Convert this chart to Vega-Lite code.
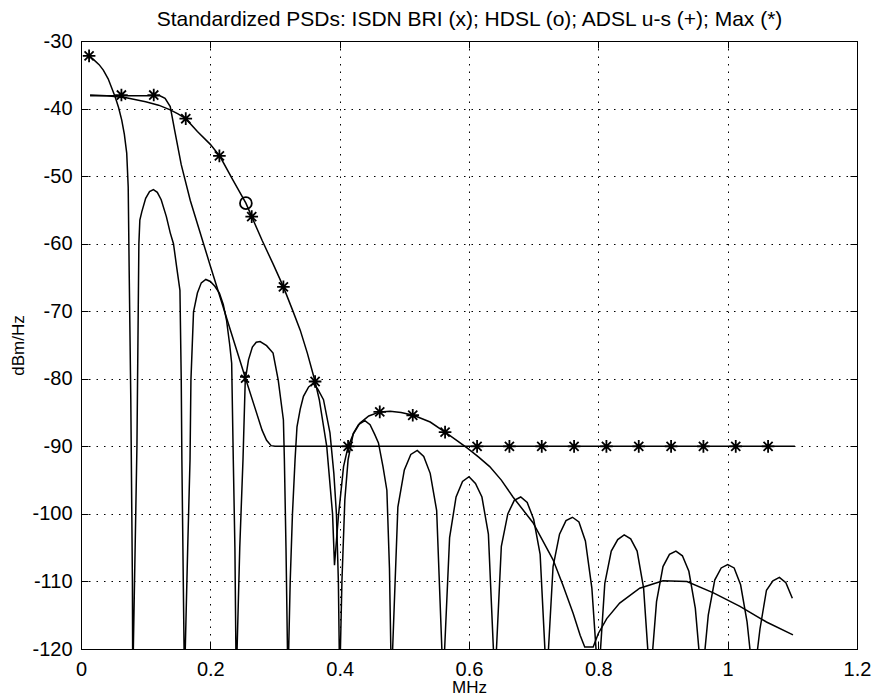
{
  "$schema": "https://vega.github.io/schema/vega-lite/v6.json",
  "width": 776,
  "height": 608,
  "autosize": {"type": "none"},
  "padding": {"left": 81, "top": 41, "right": 18, "bottom": 50},
  "background": "white",
  "config": {
    "view": {"stroke": "black", "strokeWidth": 1},
    "axis": {
      "labelFont": "Liberation Sans", "titleFont": "Liberation Sans",
      "labelColor": "black", "titleColor": "black", "domainColor": "black", "tickColor": "black",
      "labelFontSize": 20, "titleFontSize": 17, "titleFontWeight": "normal", "tickWidth": 1, "domainWidth": 1
    }
  },
  "datasets": {
    "curves": [
      {"s":"ISDN","f":0.0125,"p":-32.2},{"s":"ISDN","f":0.02,"p":-32.8},{"s":"ISDN","f":0.028,"p":-33.5},{"s":"ISDN","f":0.0345,"p":-34.3},
      {"s":"ISDN","f":0.042,"p":-35.6},{"s":"ISDN","f":0.0526,"p":-38.2},{"s":"ISDN","f":0.058,"p":-39.8},{"s":"ISDN","f":0.063,"p":-41.7},
      {"s":"ISDN","f":0.067,"p":-43.8},{"s":"ISDN","f":0.0707,"p":-46.6},{"s":"ISDN","f":0.073,"p":-51.6},{"s":"ISDN","f":0.0745,"p":-64},
      {"s":"ISDN","f":0.077,"p":-83},{"s":"ISDN","f":0.0795,"p":-110},{"s":"ISDN","f":0.08,"p":-125},
      {"s":"ISDN","f":0.0865,"p":-90},{"s":"ISDN","f":0.0885,"p":-70},{"s":"ISDN","f":0.0895,"p":-60},{"s":"ISDN","f":0.091,"p":-56.5},
      {"s":"ISDN","f":0.094,"p":-55.3},{"s":"ISDN","f":0.1,"p":-53.3},{"s":"ISDN","f":0.106,"p":-52.3},{"s":"ISDN","f":0.112,"p":-52},
      {"s":"ISDN","f":0.118,"p":-52.4},{"s":"ISDN","f":0.124,"p":-53.5},{"s":"ISDN","f":0.132,"p":-56},{"s":"ISDN","f":0.138,"p":-58.4},
      {"s":"ISDN","f":0.143,"p":-60},{"s":"ISDN","f":0.148,"p":-63.5},{"s":"ISDN","f":0.153,"p":-66.9},{"s":"ISDN","f":0.155,"p":-80},
      {"s":"ISDN","f":0.156,"p":-92},{"s":"ISDN","f":0.16,"p":-125},
      {"s":"ISDN","f":0.165,"p":-105},{"s":"ISDN","f":0.1686,"p":-92},{"s":"ISDN","f":0.17,"p":-80.2},{"s":"ISDN","f":0.174,"p":-70.1},
      {"s":"ISDN","f":0.18,"p":-67.3},{"s":"ISDN","f":0.186,"p":-65.8},{"s":"ISDN","f":0.193,"p":-65.3},{"s":"ISDN","f":0.2,"p":-65.6},
      {"s":"ISDN","f":0.207,"p":-66.3},{"s":"ISDN","f":0.214,"p":-67.3},{"s":"ISDN","f":0.22,"p":-69},{"s":"ISDN","f":0.225,"p":-71.3},
      {"s":"ISDN","f":0.23,"p":-75},{"s":"ISDN","f":0.233,"p":-77.7},{"s":"ISDN","f":0.2355,"p":-92},{"s":"ISDN","f":0.238,"p":-105},
      {"s":"ISDN","f":0.24,"p":-125},
      {"s":"ISDN","f":0.2455,"p":-105},{"s":"ISDN","f":0.2505,"p":-92},{"s":"ISDN","f":0.254,"p":-80.2},{"s":"ISDN","f":0.259,"p":-77.2},
      {"s":"ISDN","f":0.265,"p":-75.3},{"s":"ISDN","f":0.271,"p":-74.6},{"s":"ISDN","f":0.277,"p":-74.5},{"s":"ISDN","f":0.287,"p":-75.1},
      {"s":"ISDN","f":0.297,"p":-76.2},{"s":"ISDN","f":0.305,"p":-80.2},{"s":"ISDN","f":0.313,"p":-86.1},{"s":"ISDN","f":0.3145,"p":-92},
      {"s":"ISDN","f":0.317,"p":-105},{"s":"ISDN","f":0.32,"p":-125},
      {"s":"ISDN","f":0.3235,"p":-110},{"s":"ISDN","f":0.327,"p":-100},{"s":"ISDN","f":0.331,"p":-92},{"s":"ISDN","f":0.334,"p":-87.1},
      {"s":"ISDN","f":0.339,"p":-84.5},{"s":"ISDN","f":0.344,"p":-82.6},{"s":"ISDN","f":0.352,"p":-81.2},{"s":"ISDN","f":0.359,"p":-80.7},
      {"s":"ISDN","f":0.366,"p":-81.5},{"s":"ISDN","f":0.375,"p":-83.1},{"s":"ISDN","f":0.385,"p":-88},{"s":"ISDN","f":0.391,"p":-94},
      {"s":"ISDN","f":0.395,"p":-100},{"s":"ISDN","f":0.398,"p":-110},{"s":"ISDN","f":0.4,"p":-125},
      {"s":"ISDN","f":0.4035,"p":-110},{"s":"ISDN","f":0.408,"p":-97.9},{"s":"ISDN","f":0.413,"p":-92},{"s":"ISDN","f":0.421,"p":-88.1},
      {"s":"ISDN","f":0.429,"p":-86.8},{"s":"ISDN","f":0.439,"p":-86.2},{"s":"ISDN","f":0.447,"p":-86.8},{"s":"ISDN","f":0.454,"p":-88.2},
      {"s":"ISDN","f":0.46,"p":-89.5},{"s":"ISDN","f":0.467,"p":-93},{"s":"ISDN","f":0.473,"p":-96.5},{"s":"ISDN","f":0.477,"p":-108},
      {"s":"ISDN","f":0.48,"p":-125},
      {"s":"ISDN","f":0.49,"p":-99},{"s":"ISDN","f":0.5,"p":-93.5},{"s":"ISDN","f":0.51,"p":-91.2},{"s":"ISDN","f":0.52,"p":-90.6},
      {"s":"ISDN","f":0.53,"p":-91.5},{"s":"ISDN","f":0.54,"p":-94},{"s":"ISDN","f":0.55,"p":-99.5},{"s":"ISDN","f":0.56,"p":-125},
      {"s":"ISDN","f":0.57,"p":-103.5},{"s":"ISDN","f":0.58,"p":-97.5},{"s":"ISDN","f":0.59,"p":-95.2},{"s":"ISDN","f":0.6,"p":-94.5},
      {"s":"ISDN","f":0.61,"p":-95.5},{"s":"ISDN","f":0.62,"p":-97.5},{"s":"ISDN","f":0.63,"p":-103},{"s":"ISDN","f":0.64,"p":-125},
      {"s":"ISDN","f":0.65,"p":-104.8},{"s":"ISDN","f":0.66,"p":-100},{"s":"ISDN","f":0.67,"p":-98},{"s":"ISDN","f":0.68,"p":-97.5},
      {"s":"ISDN","f":0.69,"p":-98.3},{"s":"ISDN","f":0.7,"p":-100.8},{"s":"ISDN","f":0.71,"p":-106},{"s":"ISDN","f":0.72,"p":-125},
      {"s":"ISDN","f":0.73,"p":-107.8},{"s":"ISDN","f":0.74,"p":-103},{"s":"ISDN","f":0.75,"p":-101},{"s":"ISDN","f":0.76,"p":-100.5},
      {"s":"ISDN","f":0.77,"p":-101.2},{"s":"ISDN","f":0.78,"p":-104},{"s":"ISDN","f":0.79,"p":-111},{"s":"ISDN","f":0.8,"p":-125},
      {"s":"ISDN","f":0.81,"p":-110.3},{"s":"ISDN","f":0.82,"p":-105.5},{"s":"ISDN","f":0.83,"p":-103.8},{"s":"ISDN","f":0.84,"p":-103.1},
      {"s":"ISDN","f":0.85,"p":-103.7},{"s":"ISDN","f":0.86,"p":-105.5},{"s":"ISDN","f":0.87,"p":-111},{"s":"ISDN","f":0.88,"p":-125},
      {"s":"ISDN","f":0.89,"p":-113},{"s":"ISDN","f":0.9,"p":-107.8},{"s":"ISDN","f":0.91,"p":-106},{"s":"ISDN","f":0.92,"p":-105.5},
      {"s":"ISDN","f":0.93,"p":-106.2},{"s":"ISDN","f":0.94,"p":-108.5},{"s":"ISDN","f":0.95,"p":-114},{"s":"ISDN","f":0.96,"p":-125},
      {"s":"ISDN","f":0.97,"p":-115},{"s":"ISDN","f":0.98,"p":-109.8},{"s":"ISDN","f":0.99,"p":-108},{"s":"ISDN","f":1.0,"p":-107.5},
      {"s":"ISDN","f":1.01,"p":-108},{"s":"ISDN","f":1.02,"p":-110.5},{"s":"ISDN","f":1.03,"p":-116},{"s":"ISDN","f":1.04,"p":-125},
      {"s":"ISDN","f":1.05,"p":-117},{"s":"ISDN","f":1.06,"p":-111.3},{"s":"ISDN","f":1.07,"p":-109.9},{"s":"ISDN","f":1.08,"p":-109.4},
      {"s":"ISDN","f":1.09,"p":-110.2},{"s":"ISDN","f":1.1,"p":-112.5},

      {"s":"HDSL","f":0.014,"p":-38.0},{"s":"HDSL","f":0.04,"p":-38.1},{"s":"HDSL","f":0.07,"p":-38.4},{"s":"HDSL","f":0.1,"p":-39.0},
      {"s":"HDSL","f":0.12,"p":-39.5},{"s":"HDSL","f":0.138,"p":-40.2},{"s":"HDSL","f":0.15,"p":-40.8},{"s":"HDSL","f":0.162,"p":-41.5},
      {"s":"HDSL","f":0.18,"p":-43.4},{"s":"HDSL","f":0.2,"p":-45.3},{"s":"HDSL","f":0.215,"p":-47.1},{"s":"HDSL","f":0.235,"p":-50.6},
      {"s":"HDSL","f":0.255,"p":-54.0},{"s":"HDSL","f":0.264,"p":-56.0},{"s":"HDSL","f":0.28,"p":-59.5},{"s":"HDSL","f":0.297,"p":-63},
      {"s":"HDSL","f":0.313,"p":-66.4},{"s":"HDSL","f":0.327,"p":-69.8},{"s":"HDSL","f":0.339,"p":-72.8},{"s":"HDSL","f":0.35,"p":-76.2},
      {"s":"HDSL","f":0.362,"p":-80.4},{"s":"HDSL","f":0.3685,"p":-83.1},{"s":"HDSL","f":0.38,"p":-90},{"s":"HDSL","f":0.389,"p":-100},
      {"s":"HDSL","f":0.392,"p":-107.6},{"s":"HDSL","f":0.398,"p":-100.4},{"s":"HDSL","f":0.406,"p":-93},{"s":"HDSL","f":0.413,"p":-90.05},
      {"s":"HDSL","f":0.421,"p":-88.2},{"s":"HDSL","f":0.431,"p":-86.6},{"s":"HDSL","f":0.445,"p":-85.5},{"s":"HDSL","f":0.462,"p":-84.9},
      {"s":"HDSL","f":0.478,"p":-84.8},{"s":"HDSL","f":0.495,"p":-85},{"s":"HDSL","f":0.514,"p":-85.4},{"s":"HDSL","f":0.54,"p":-86.4},
      {"s":"HDSL","f":0.563,"p":-87.9},{"s":"HDSL","f":0.582,"p":-89.2},{"s":"HDSL","f":0.598,"p":-90.3},{"s":"HDSL","f":0.615,"p":-91.6},
      {"s":"HDSL","f":0.632,"p":-93},{"s":"HDSL","f":0.65,"p":-95},{"s":"HDSL","f":0.668,"p":-97.5},{"s":"HDSL","f":0.699,"p":-101.3},
      {"s":"HDSL","f":0.73,"p":-106.8},{"s":"HDSL","f":0.745,"p":-110.5},{"s":"HDSL","f":0.761,"p":-114.7},{"s":"HDSL","f":0.772,"p":-118},
      {"s":"HDSL","f":0.779,"p":-119.7},{"s":"HDSL","f":0.792,"p":-119.7},{"s":"HDSL","f":0.8,"p":-117.7},{"s":"HDSL","f":0.813,"p":-115.5},
      {"s":"HDSL","f":0.833,"p":-113.2},{"s":"HDSL","f":0.864,"p":-111},{"s":"HDSL","f":0.9,"p":-109.9},{"s":"HDSL","f":0.937,"p":-110.0},
      {"s":"HDSL","f":0.978,"p":-111.7},{"s":"HDSL","f":1.019,"p":-113.7},{"s":"HDSL","f":1.06,"p":-116},{"s":"HDSL","f":1.101,"p":-117.9},

      {"s":"ADSL","f":0.014,"p":-38.1},{"s":"ADSL","f":0.122,"p":-38.1},{"s":"ADSL","f":0.13,"p":-38.5},{"s":"ADSL","f":0.138,"p":-39.7},
      {"s":"ADSL","f":0.145,"p":-43.3},{"s":"ADSL","f":0.155,"p":-48.3},{"s":"ADSL","f":0.169,"p":-53.6},{"s":"ADSL","f":0.2,"p":-63.3},
      {"s":"ADSL","f":0.2536,"p":-79.7},{"s":"ADSL","f":0.28,"p":-87.6},{"s":"ADSL","f":0.287,"p":-89.1},{"s":"ADSL","f":0.294,"p":-89.9},
      {"s":"ADSL","f":0.3,"p":-90},{"s":"ADSL","f":1.104,"p":-90}
    ],
    "marks": [
      {"m":"max","f":0.0125,"p":-32.2},{"m":"max","f":0.0625,"p":-38.0},{"m":"max","f":0.1125,"p":-38.0},{"m":"max","f":0.162,"p":-41.5},
      {"m":"max","f":0.214,"p":-47.0},{"m":"max","f":0.264,"p":-56.0},{"m":"max","f":0.313,"p":-66.4},{"m":"max","f":0.362,"p":-80.4},
      {"m":"max","f":0.413,"p":-90.0},{"m":"max","f":0.462,"p":-84.9},{"m":"max","f":0.513,"p":-85.4},{"m":"max","f":0.563,"p":-87.9},
      {"m":"max","f":0.6125,"p":-90},{"m":"max","f":0.6625,"p":-90},{"m":"max","f":0.7125,"p":-90},{"m":"max","f":0.7625,"p":-90},
      {"m":"max","f":0.8125,"p":-90},{"m":"max","f":0.8625,"p":-90},{"m":"max","f":0.9125,"p":-90},{"m":"max","f":0.9625,"p":-90},
      {"m":"max","f":1.0125,"p":-90},{"m":"max","f":1.0625,"p":-90},
      {"m":"hdsl","f":0.255,"p":-54.0},
      {"m":"isdn","f":0.2536,"p":-80.0},
      {"m":"adsl","f":0.2536,"p":-79.7}
    ]
  },
  "layer": [
    {
      "data": {"name": "curves"},
      "mark": {"type": "line", "color": "black", "strokeWidth": 1.5, "clip": true},
      "encoding": {
        "x": {"field": "f", "type": "quantitative",
          "scale": {"domain": [0, 1.2], "nice": false, "zero": false},
          "axis": {"orient": "bottom", "values": [0, 0.2, 0.4, 0.6, 0.8, 1, 1.2], "labelExpr": "'' + datum.value",
            "title": "MHz", "grid": true, "gridColor": "#000", "gridDash": [1.5, 6], "gridWidth": 1,
            "tickSize": -7, "labelPadding": 17, "labelFlush": false, "titleY": 43, "titleBaseline": "alphabetic"}},
        "y": {"field": "p", "type": "quantitative",
          "scale": {"domain": [-120, -30], "nice": false, "zero": false},
          "axis": {"orient": "left", "values": [-120, -110, -100, -90, -80, -70, -60, -50, -40, -30], "labelExpr": "'' + datum.value",
            "title": "dBm/Hz", "grid": true, "gridColor": "#000", "gridDash": [1.5, 6], "gridWidth": 1,
            "tickSize": -7, "labelPadding": 16, "labelFlush": false,
            "titleAngle": 270, "titleX": -63, "titleY": 304, "titleBaseline": "middle", "titleAlign": "center"}},
        "detail": {"field": "s"}
      }
    },
    {
      "data": {"name": "marks"},
      "mark": {"type": "point", "filled": false, "color": "black", "strokeWidth": 1.8, "opacity": 1, "clip": true},
      "encoding": {
        "x": {"field": "f", "type": "quantitative",
          "axis": {"orient": "top", "values": [0, 0.2, 0.4, 0.6, 0.8, 1, 1.2], "labels": false, "grid": false,
            "title": "Standardized PSDs: ISDN BRI (x); HDSL (o); ADSL u-s (+); Max (*)", "titleFontSize": 21,
            "titleX": 388, "titleY": -16, "titleAlign": "center", "titleBaseline": "alphabetic", "tickSize": -7}},
        "y": {"field": "p", "type": "quantitative",
          "axis": {"orient": "right", "values": [-120, -110, -100, -90, -80, -70, -60, -50, -40, -30], "labels": false, "grid": false, "title": null, "tickSize": -7}},
        "shape": {"field": "m", "type": "nominal", "legend": null,
          "scale": {"domain": ["max", "hdsl", "isdn", "adsl"],
            "range": ["M-1,0L1,0M0,-1L0,1M-0.72,-0.72L0.72,0.72M-0.72,0.72L0.72,-0.72", "circle", "M-0.72,-0.72L0.72,0.72M-0.72,0.72L0.72,-0.72", "M-1,0L1,0M0,-1L0,1"]}},
        "size": {"field": "m", "type": "ordinal", "legend": null,
          "scale": {"domain": ["max", "hdsl", "isdn", "adsl"], "range": [160, 100, 160, 150]}}
      }
    }
  ],
  "resolve": {"axis": {"x": "independent", "y": "independent"}}
}
